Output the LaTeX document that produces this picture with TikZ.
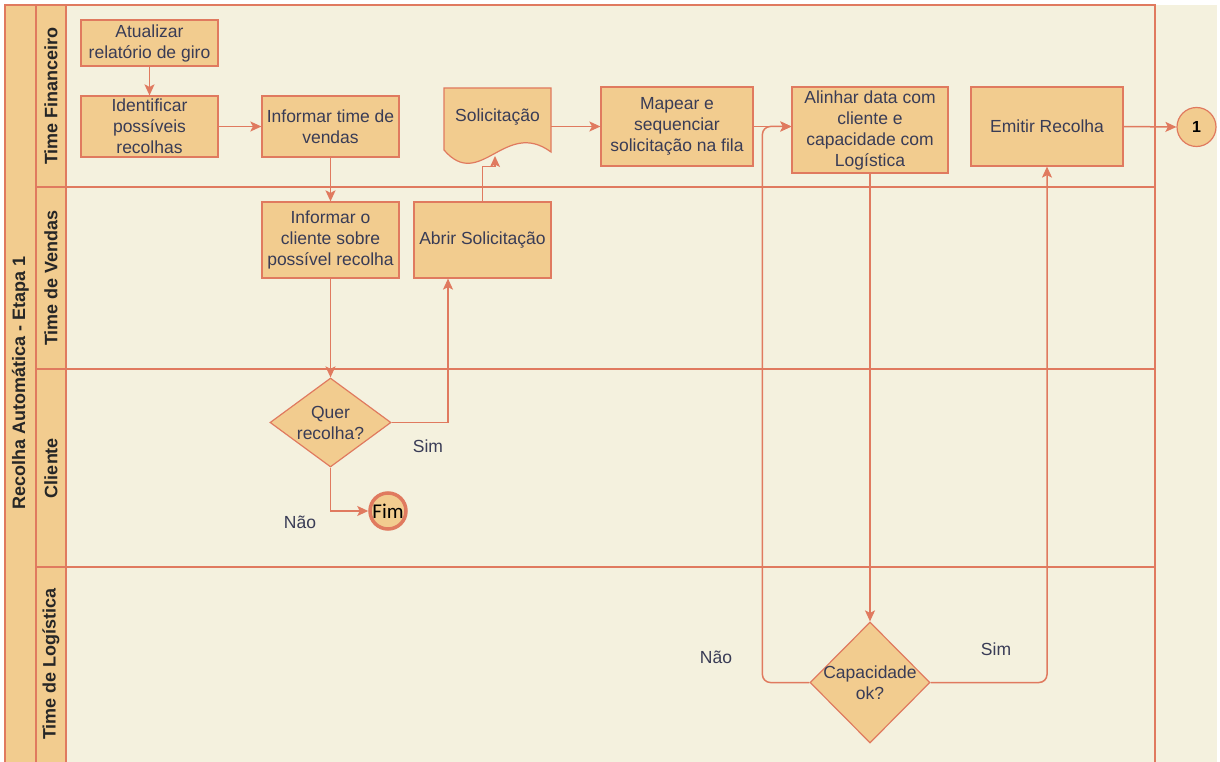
\documentclass[tikz,border=0pt]{standalone}
\usetikzlibrary{arrows.meta,shapes.geometric}
\usepackage{fontspec}
\setmainfont{Liberation Sans}
\newfontfamily\fimfont{Carlito}
\definecolor{cream}{HTML}{F4F1DE}
\definecolor{sand}{HTML}{F2CC8F}
\definecolor{terra}{HTML}{E07A5F}
\definecolor{ink}{HTML}{393C56}

\begin{document}
\begin{tikzpicture}[x=1pt,y=-1pt,
    txt/.style={align=center,text=ink,font=\fontsize{17.5}{21}\selectfont},
    task/.style={txt,draw=terra,fill=sand,line width=1.2pt,inner sep=0pt},
    decision/.style={diamond,draw=terra,fill=sand,line width=1.2pt,inner sep=0pt},
    lanetitle/.style={rotate=90,font=\bfseries\fontsize{18}{21}\selectfont,text=black!85},
    flow/.style={draw=terra,line width=1.5pt,-{Stealth[length=11pt,width=10pt,inset=2.5pt]}}]
      \useasboundingbox (0,0) rectangle (1220,762);
      \fill[cream] (5,5) rectangle (1217,762);
      \filldraw[fill=sand,draw=terra,line width=1.2pt] (5,5) rectangle (66,764);
      \draw[terra,line width=1.2pt] (5,5) rectangle (1155,764);
      \draw[terra,line width=1.2pt] (36,5) -- (36,764);
      \draw[terra,line width=1.2pt] (36,187) -- (1155,187);
      \draw[terra,line width=1.2pt] (36,369) -- (1155,369);
      \draw[terra,line width=1.2pt] (36,567) -- (1155,567);
      \node[lanetitle] (pool) at (20.5,383) {Recolha Automática - Etapa 1};
      \node[lanetitle] (financeiro) at (51,96) {Time Financeiro};
      \node[lanetitle] (vendas) at (51,278) {Time de Vendas};
      \node[lanetitle] (cliente) at (51,468) {Cliente};
      \node[lanetitle] (logistica) at (51,664) {Time de Logística};

      \node[task,minimum width=137pt,minimum height=46pt] (atual) at (149.5,43) {Atualizar\\relatório de giro};
      \node[task,minimum width=137pt,minimum height=61pt] (ident) at (149.5,126.5) {Identificar\\possíveis\\recolhas};
      \node[task,minimum width=137pt,minimum height=61pt] (inftime) at (330.5,126.5) {Informar time de\\vendas};
      \node[task,minimum width=137pt,minimum height=76pt] (infcli) at (330.5,240) {Informar o\\cliente sobre\\possível recolha};
      \node[task,minimum width=137pt,minimum height=76pt] (abrir) at (482.5,240) {Abrir Solicitação};
      \filldraw[fill=sand,draw=terra,line width=1.2pt] (444,88) -- (551,88) -- (551,152)
          .. controls (505,118) and (480,192) .. (444,150) -- cycle;
      \node[txt,minimum width=107pt,inner sep=0pt] (sol) at (497.5,117) {Solicitação};
      \coordinate (solwave) at (495,156);
      \node[task,minimum width=152pt,minimum height=79pt] (mapear) at (677,126.5) {Mapear e\\sequenciar\\solicitação na fila};
      \node[task,minimum width=156pt,minimum height=86pt] (alinhar) at (870,130) {Alinhar data com\\cliente e\\capacidade com\\Logística};
      \node[task,minimum width=152pt,minimum height=79pt] (emitir) at (1047,126.5) {Emitir Recolha};
      \node[circle,draw=terra,fill=sand,line width=1.2pt,minimum size=39pt,inner sep=0pt,font=\bfseries\fontsize{16}{18}\selectfont] (one) at (1196.5,127) {1};
      \node[decision,minimum width=121pt,minimum height=89pt,label={[txt]center:{Quer\\recolha?}}] (quer) at (330.5,422.5) {};
      \node[circle,draw=terra,fill=sand,line width=3.5pt,minimum size=36pt,inner sep=0pt,label={[font=\fimfont\fontsize{21}{24}\selectfont]center:Fim}] (fim) at (388,511) {};
      \node[decision,minimum width=120pt,minimum height=121pt,label={[txt]center:{Capacidade\\ok?}}] (capac) at (870,682.5) {};

      \draw[flow] (atual) -- (ident);
      \draw[flow] (ident) -- (inftime);
      \draw[flow] (inftime) -- (infcli);
      \draw[flow] (infcli) -- (quer);
      \draw[flow] (quer.east) -| ([xshift=-34.5pt]abrir.south);
      \draw[flow] (quer.south) |- (fim.west);
      \draw[flow] (abrir.north) -- ++(0,-35) -| (solwave);
      \draw[flow] (sol.east |- mapear.west) -- (mapear.west);
      \draw[flow] (mapear.east) -- (mapear.east -| alinhar.west);
      \draw[flow] (alinhar.south) -- (capac.north);
      \draw[flow,rounded corners=8pt] (capac.west) -- ++(-47,0) |- (mapear.east -| alinhar.west);
      \draw[flow,rounded corners=8pt] (capac.east) -| (emitir.south);
      \draw[flow] (emitir.east) -- (one.west);

      \node[txt] (simquer) at (428,446) {Sim};
      \node[txt] (naoquer) at (300,522) {Não};
      \node[txt] (naocap) at (716,657) {Não};
      \node[txt] (simcap) at (996,649) {Sim};
\end{tikzpicture}
\end{document}
